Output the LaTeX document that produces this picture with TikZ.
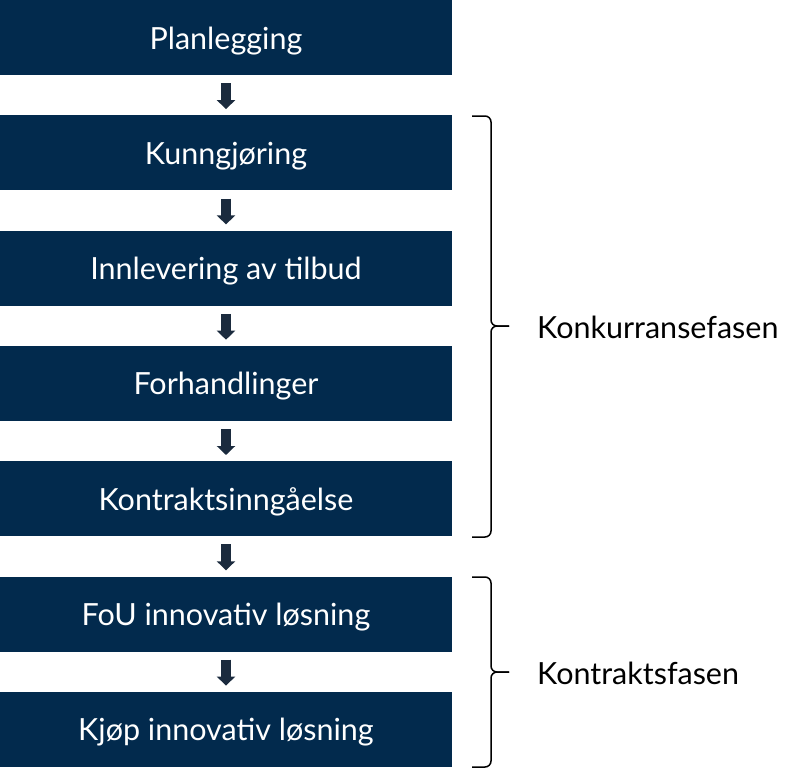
\documentclass[tikz,border=0pt]{standalone}
\usepackage{fontspec}
\setmainfont{Lato}
\usepackage{xcolor}
\usetikzlibrary{positioning,arrows.meta}
\definecolor{navy}{HTML}{022A4D}
\definecolor{pilgraa}{HTML}{1B2B3E}

\begin{document}
\begin{tikzpicture}[x=1pt,y=-1pt,
		fase/.style={fill=navy, text=white, minimum width=452pt, minimum height=75pt, inner sep=0pt, text height=23pt, text depth=0pt, font=\fontsize{30.5}{36}\selectfont},
		pil/.style={draw=pilgraa, line width=10pt, -{Triangle[width=18pt,length=9pt]}, shorten <=8pt, shorten >=6pt},
		klamme/.style={line width=1.5pt, rounded corners=6pt},
		fasenavn/.style={anchor=base west, inner sep=0pt, font=\fontsize{30.5}{36}\selectfont}]
			\useasboundingbox (0,0) rectangle (800,768);
			\foreach \navn/\tekst [count=\i] in {plan/Planlegging, kunn/Kunngjøring, innl/Innlevering av tilbud, forh/Forhandlinger, kontr/Kontraktsinngåelse, fou/FoU innovativ løsning, kjop/Kjøp innovativ løsning} {
				\node[fase] (\navn) at (226, {37.5+115.3*(\i-1)}) {\tekst};
			}
			\foreach \fra/\til in {plan/kunn, kunn/innl, innl/forh, forh/kontr, kontr/fou, fou/kjop} {
				\draw[pil] (\fra) -- (\til);
			}
%			klammer
			\coordinate (k1) at (472,116);
			\coordinate (k2) at (472,537);
			\draw[klamme] (k1) -- (491,116) -- (491,326) -- (509,326);
			\draw[klamme] (509,326) -- (491,326) -- (491,537) -- (k2);
			\node[fasenavn] (konk) at (537,338) {Konkurransefasen};
			\coordinate (k3) at (472,577);
			\coordinate (k4) at (472,767);
			\draw[klamme] (k3) -- (491,577) -- (491,672) -- (509,672);
			\draw[klamme] (509,672) -- (491,672) -- (491,767) -- (k4);
			\node[fasenavn] (kfase) at (537,684) {Kontraktsfasen};
		\end{tikzpicture}
\end{document}
